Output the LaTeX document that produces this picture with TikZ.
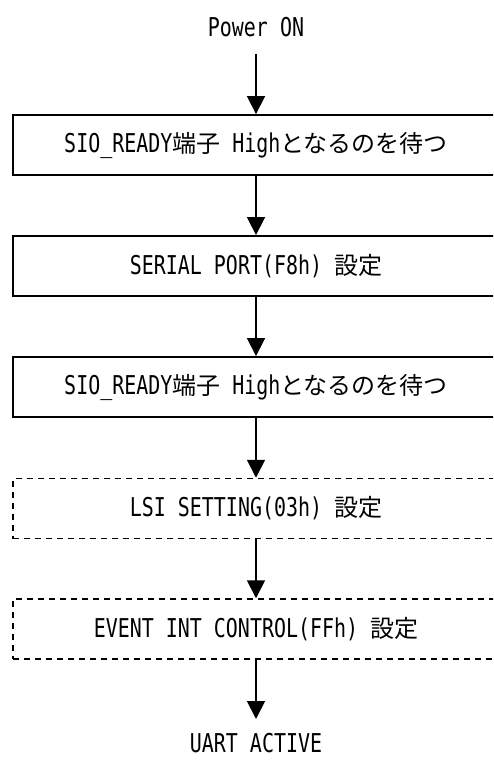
\documentclass[tikz,border=0pt]{standalone}
\usepackage{fontspec}
\setmainfont{DejaVu Sans Mono}[Scale=1.08,FakeStretch=0.77]
\newfontfamily\cjk{Noto Sans CJK JP}
\newcommand\J[1]{{\cjk #1}}
\usetikzlibrary{arrows.meta}
\begin{document}
\begin{tikzpicture}[x=1pt,y=-1pt,
  txt/.style={font=\fontsize{24pt}{28pt}\selectfont, inner sep=0pt},
  box/.style={txt, draw, line width=1.9pt, minimum width=486pt, minimum height=60pt},
  dbox/.style={box, line width=1.5pt, dash pattern=on 6pt off 5pt},
  arr/.style={line width=1.8pt, -{Triangle[width=18pt,length=18pt]}}]
\useasboundingbox (0,0) rectangle (493,760);
\clip (0,0) rectangle (493,760);
\node[txt] (pon) at (256,27) {Power ON};
\coordinate (a0) at (256,54);
\node[box] (b1) at (256,145) {SIO\_READY\J{端子} High\J{となるのを待つ}};
\node[box] (b2) at (256,266) {SERIAL PORT(F8h) \J{設定}};
\node[box] (b3) at (256,387) {SIO\_READY\J{端子} High\J{となるのを待つ}};
\node[dbox] (b4) at (256,508.5) {LSI SETTING(03h) \J{設定}};
\node[dbox] (b5) at (256,629) {EVENT INT CONTROL(FFh) \J{設定}};
\coordinate (a5) at (256,719);
\node[txt] (ua) at (256,743) {UART ACTIVE};
\draw[arr] (a0) -- (b1.north);
\draw[arr] (b1) -- (b2);
\draw[arr] (b2) -- (b3);
\draw[arr] (b3) -- (b4);
\draw[arr] (b4) -- (b5);
\draw[arr] (b5) -- (a5);
\end{tikzpicture}
\end{document}
